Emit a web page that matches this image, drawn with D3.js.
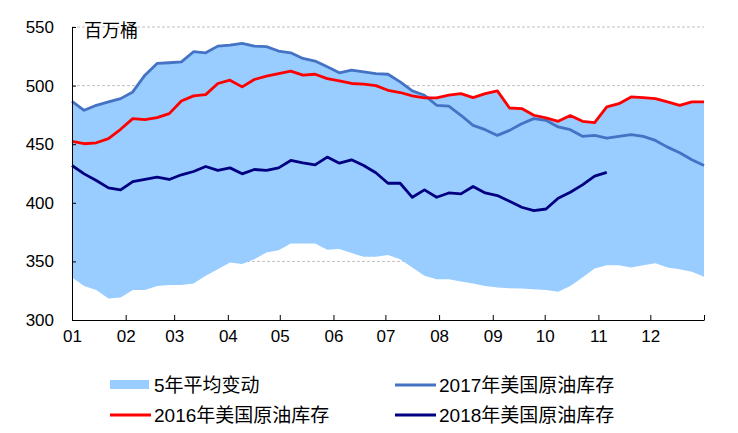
<!DOCTYPE html>
<html>
<head>
<meta charset="utf-8">
<script src="https://cdn.jsdelivr.net/npm/d3@7"></script>
<style>
    body { margin: 0; background: #fff; }
    text { font-family: "Liberation Sans", Arial, "Noto Sans CJK SC", sans-serif; fill: #000; }
</style>
</head>
<body>
<svg id="chart" width="738" height="433"></svg>
<script>
//Weekly US crude stocks, million barrels
var stocks2016 = [452.4,450.4,451.2,454.7,462.7,471.8,471.0,472.7,476.1,486.9,491.2,492.3,501.8,504.6,498.9,505.2,508.0,510.3,512.3,508.9,509.7,506.0,504.0,501.8,501.2,500.0,496.0,
    494.1,491.2,489.5,489.5,491.8,493.2,489.8,493.2,495.5,480.9,480.4,474.7,472.4,469.5,474.4,469.5,468.4,481.8,484.6,490.3,489.8,488.9,486.1,483.2,486.1,486.1];
var stocks2017 = [486.6,478.9,483.2,486.1,488.9,494.6,508.9,518.9,519.5,520.3,528.9,528.0,533.7,534.6,536.0,533.7,533.2,529.5,528.0,523.2,520.9,516.0,510.9,513.2,511.8,510.3,509.7,
    503.2,495.5,491.8,483.2,482.4,474.7,466.1,462.4,457.5,461.8,467.5,471.8,470.4,464.7,462.4,456.7,457.5,455.2,456.7,458.1,456.7,453.2,447.5,442.7,436.7,431.8];
var stocks2018 = [431.8,424.7,419.0,412.7,411.0,418.1,419.9,421.9,419.9,423.9,426.7,431.0,427.6,429.8,424.7,428.4,427.6,429.8,436.1,434.1,432.4,439.0,433.8,436.7,431.8,425.6,416.7,
    416.7,404.7,411.0,404.7,408.4,407.6,413.9,408.4,406.2,401.3,396.2,393.3,394.7,403.9,409.0,415.3,422.7,425.9];

//5 year range (upper / lower edge of the shaded band)
var bandHigh = [486.6,478.9,483.2,486.1,488.9,494.6,508.9,518.9,519.5,520.3,528.9,528.0,533.7,534.6,536.0,533.7,533.2,529.5,528.0,523.2,520.9,516.0,510.9,513.2,511.8,510.3,509.7,
    503.2,495.5,491.8,489.5,491.8,493.2,489.8,493.2,495.5,480.9,480.4,474.7,472.4,469.5,474.4,469.5,468.4,481.8,484.6,490.3,489.8,488.9,486.1,483.2,486.1,486.1];
var bandLow = [336.2,329.1,325.7,318.3,319.1,325.7,325.7,329.1,329.9,329.9,331.1,337.7,343.4,349.1,347.7,351.9,357.6,359.6,365.3,365.3,365.3,359.9,360.5,357.1,353.9,353.9,355.4,
    351.9,344.8,337.7,334.8,334.8,332.8,331.1,329.1,327.7,327.1,326.8,326.2,325.7,324.2,329.1,336.2,343.9,346.8,346.8,344.8,346.8,348.5,344.8,343.4,341.1,336.8];

var yTicks = [300, 350, 400, 450, 500, 550];
var unitLabel = "百万桶";
var legendItems = [
    ["band", "5年平均变动", "#99CCFF"],
    ["line", "2017年美国原油库存", "#4472C4"],
    ["line", "2016年美国原油库存", "#FF0000"],
    ["line", "2018年美国原油库存", "#000080"]
];

//Global Variables
var svg = d3.select("#chart");
var plotLeft = 72, plotRight = 704, plotTop = 27, plotBottom = 320;
var yearStart = new Date(2017, 0, 1);
var yearEnd = new Date(2018, 0, 1);
var nWeeks = 52;

var x = d3.scaleTime()
    .domain([yearStart, yearEnd])
    .range([plotLeft, plotRight]);
var y = d3.scaleLinear()
    .domain([300, 550])
    .range([plotBottom, plotTop]);

//week index -> date, 53 points spread over the year
function weekDate(i) {
    return new Date(+yearStart + i * (yearEnd - yearStart) / nWeeks);
}

////////////////////// Grid /////////////////////////

svg.append("g")
    .selectAll("line")
    .data(yTicks.slice(1))
    .enter()
    .append("line")
    .attr("x1", plotLeft)
    .attr("x2", plotRight)
    .attr("y1", d => y(d))
    .attr("y2", d => y(d))
    .style("stroke", "#c0c0c0")
    .style("stroke-width", 1)
    .style("stroke-dasharray", "3,2");

////////////////////// Band /////////////////////////

var area = d3.area()
    .x((d, i) => x(weekDate(i)))
    .y0((d, i) => y(bandLow[i]))
    .y1(d => y(d));

svg.append("path")
    .datum(bandHigh)
    .attr("d", area)
    .style("fill", "#99CCFF");

////////////////////// Lines /////////////////////////

var line = d3.line()
    .x((d, i) => x(weekDate(i)))
    .y(d => y(d));

[[stocks2017, "#4472C4"], [stocks2016, "#FF0000"], [stocks2018, "#000080"]].forEach(function(s) {
    svg.append("path")
        .datum(s[0])
        .attr("d", line)
        .style("fill", "none")
        .style("stroke", s[1])
        .style("stroke-width", 2.8)
        .style("stroke-linejoin", "round");
});

////////////////////// Axes /////////////////////////

var xAxis = d3.axisBottom(x)
    .tickValues(d3.timeMonth.range(yearStart, d3.timeDay.offset(yearEnd, 1)))
    .tickSizeInner(-5)
    .tickSizeOuter(0)
    .tickPadding(10)
    .tickFormat(d => d < yearEnd ? d3.timeFormat("%m")(d) : "");

var gx = svg.append("g")
    .attr("transform", "translate(0," + plotBottom + ")")
    .call(xAxis);
gx.selectAll("text").style("font-size", "17px");

var yAxis = d3.axisLeft(y)
    .tickValues(yTicks)
    .tickSizeInner(-4)
    .tickSizeOuter(0)
    .tickPadding(18);

var gy = svg.append("g")
    .attr("transform", "translate(" + plotLeft + ",0)")
    .call(yAxis);
gy.selectAll("text").style("font-size", "17px");

svg.selectAll(".domain, .tick line").style("stroke", "#000").style("stroke-width", 1);

svg.append("text")
    .attr("x", 84)
    .attr("y", 37)
    .style("font-size", "18px")
    .style("font-family", "'Noto Sans CJK SC', sans-serif")
    .text(unitLabel);

////////////////////// Legend /////////////////////////

var legend = svg.append("g")
    .selectAll("g")
    .data(legendItems)
    .enter()
    .append("g")
    .attr("transform", function(d, i) {
        return "translate(" + (i % 2 == 0 ? 110 : 395) + "," + (i < 2 ? 385 : 415) + ")";
    })
    .each(function(d) {
        var g = d3.select(this);
        if (d[0] == "band") {
            g.append("rect")
                .attr("x", 0)
                .attr("y", -5)
                .attr("width", 39)
                .attr("height", 9)
                .style("fill", d[2]);
        } else {
            g.append("line")
                .attr("x1", 0)
                .attr("x2", 41)
                .style("stroke", d[2])
                .style("stroke-width", 2.8);
        }
        g.append("text")
            .attr("x", 44)
            .attr("dy", "0.35em")
            .style("font-size", "19px")
            .text(d[1]);
    });
</script>
</body>
</html>
